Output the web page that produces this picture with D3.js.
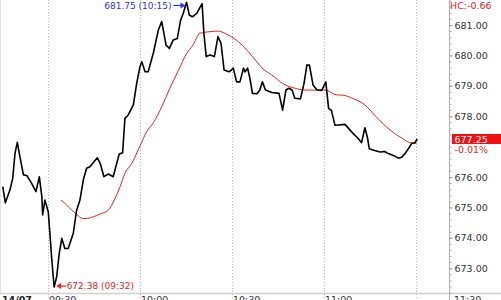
<!DOCTYPE html>
<html lang="en">
<head>
<meta charset="utf-8" />
<script src="https://cdnjs.cloudflare.com/ajax/libs/d3/7.8.5/d3.min.js"></script>
<style>
    body { margin: 0; background: #fff; }
    svg { display: block; font-family: 'DejaVu Sans', Verdana, sans-serif; }
</style>
</head>
<body>
<div id="chart"></div>
<script>
// intraday price (1-min trace)
var priceTimes = ["09:15:15","09:16:05","09:17:35","09:18:30","09:19:15","09:20:00","09:20:50","09:22:00","09:23:05","09:24:40",
    "09:26:05","09:27:10","09:28:00","09:28:15","09:29:00","09:30:05","09:30:40","09:31:15","09:32:00","09:32:50",
    "09:33:40","09:34:30","09:35:30","09:36:35","09:38:15","09:39:20","09:40:25","09:41:30","09:42:35","09:43:40",
    "09:45:00","09:46:05","09:47:00","09:48:15","09:49:40","09:51:15","09:52:25","09:53:15","09:54:20","09:55:05",
    "09:56:10","09:57:50","09:58:55","10:00:00","10:00:35","10:01:40","10:02:40","10:04:20","10:06:00","10:07:05",
    "10:08:30","10:09:35","10:10:50","10:12:10","10:13:15","10:14:05","10:15:10","10:16:05","10:17:05","10:18:30",
    "10:20:15","10:20:50","10:21:35","10:22:50","10:24:15","10:25:25","10:26:25","10:27:25","10:29:00","10:29:50",
    "10:30:25","10:31:30","10:32:35","10:33:45","10:34:15","10:35:05","10:35:50","10:36:40","10:38:10","10:39:05",
    "10:39:55","10:40:55","10:43:00","10:45:20","10:46:30","10:47:35","10:48:35","10:49:35","10:50:30","10:52:20",
    "10:53:30","10:54:25","10:55:15","10:56:25","10:57:45","10:59:15","11:00:35","11:01:30","11:02:25","11:03:35",
    "11:04:45","11:06:50","11:08:00","11:09:35","11:10:50","11:12:15","11:13:20","11:14:10","11:14:45","11:16:15",
    "11:18:15","11:19:45","11:21:00","11:22:35","11:24:15","11:25:20","11:26:25","11:27:30","11:28:35","11:29:40",
    "11:30:25"];
var priceValues = [675.68, 675.15, 675.57, 675.96, 676.78, 677.14, 676.67, 676.07, 676.05, 675.79,
    675.52, 676.01, 675.35, 674.75, 675.24, 674.86, 674.08, 673.27, 672.38, 672.72,
    673.49, 673.98, 673.65, 673.65, 674.15, 674.91, 675.24, 675.90, 676.29, 676.34,
    676.50, 676.63, 676.45, 676.01, 676.10, 676.01, 676.45, 676.76, 676.80, 677.93,
    678.04, 678.37, 679.08, 679.63, 679.79, 679.46, 679.46, 680.07, 680.84, 681.11,
    680.34, 680.23, 680.51, 680.56, 681.16, 681.38, 681.75, 681.33, 681.27, 681.38,
    681.70, 680.73, 679.96, 680.01, 679.96, 680.62, 680.40, 679.52, 679.46, 679.52,
    679.58, 679.13, 679.13, 679.58, 679.46, 679.58, 679.25, 678.75, 678.74, 678.86,
    679.13, 678.86, 678.78, 678.75, 678.20, 678.86, 678.92, 678.86, 678.59, 678.57,
    679.09, 679.68, 679.68, 679.03, 678.86, 678.85, 679.13, 678.26, 678.19, 677.70,
    677.71, 677.73, 677.60, 677.42, 677.30, 677.13, 677.62, 677.30, 676.93, 676.88,
    676.82, 676.84, 676.77, 676.71, 676.62, 676.65, 676.77, 676.93, 677.10, 677.13,
    677.25];

// moving average (red)
var maTimes = ["09:34:15","09:36:05","09:37:45","09:39:20","09:41:20","09:43:00","09:44:45","09:47:00","09:49:40","09:51:50",
    "09:53:30","09:55:05","09:57:20","10:00:00","10:02:10","10:04:20","10:07:05","10:09:45","10:12:30","10:15:15",
    "10:17:05","10:19:35","10:22:50","10:25:25","10:28:45","10:32:05","10:35:20","10:38:05","10:40:10","10:42:55",
    "10:46:45","10:50:30","10:53:50","10:57:05","11:00:20","11:04:10","11:06:15","11:09:30","11:13:20","11:17:10",
    "11:21:30","11:25:50","11:28:00","11:30:15"];
var maValues = [675.24, 675.08, 674.91, 674.78, 674.63, 674.64, 674.69, 674.78, 674.91, 675.29,
    675.68, 676.12, 676.45, 677.02, 677.49, 677.78, 678.31, 678.92, 679.50, 680.07,
    680.31, 680.73, 680.78, 680.80, 680.67, 680.45, 680.12, 679.79, 679.55, 679.36,
    679.06, 678.92, 678.86, 678.86, 678.86, 678.70, 678.69, 678.58, 678.37, 677.96,
    677.55, 677.25, 677.13, 677.11];

// 677.00 sits under the last-price box, so it has no label
var yTicks = [673, 674, 675, 676, 678, 679, 680, 681];
var timeTicks = ["09:30", "10:00", "10:30", "11:00", "11:30"];
var dateLabel = "14/07";

var highPoint = { time: "10:15:10", value: 681.75, label: "681.75 (10:15)" };
var lowPoint = { time: "09:32:00", value: 672.38, label: "672.38 (09:32)" };
var lastValue = 677.25;
var lastChange = "-0.01%";
var hcLabel = "HC:-0.66";

// -- layout --
var width = 501, height = 300;
var plotRight = 449, axisY = 293;

var parseT = d3.timeParse("%H:%M:%S");
var parseHM = d3.timeParse("%H:%M");

var price = priceTimes.map(function (t, i) { return { t: parseT(t), v: priceValues[i] }; });
var ma = maTimes.map(function (t, i) { return { t: parseT(t), v: maValues[i] }; });

var x = d3.scaleTime()
    .domain([parseHM("09:30"), parseHM("11:30")])
    .range([48, 416]);

var y = d3.scaleLinear()
    .domain([673, 681])
    .range([268.2, 25]);

var svg = d3.select('#chart').append('svg')
    .attr('width', width)
    .attr('height', height);

svg.append('rect').attr('width', width).attr('height', height).attr('fill', '#fff');

// dotted vertical grid
svg.append('g').selectAll('line')
    .data(timeTicks)
    .enter().append('line')
    .attr('x1', function (d) { return Math.round(x(parseHM(d))) + 0.5; })
    .attr('x2', function (d) { return Math.round(x(parseHM(d))) + 0.5; })
    .attr('y1', 0).attr('y2', height)
    .attr('stroke', '#b8b8b8')
    .attr('stroke-dasharray', '1,2');

// frame lines
svg.append('line')
    .attr('x1', 0.5).attr('x2', 0.5).attr('y1', 0).attr('y2', axisY)
    .attr('stroke', '#e4e4e4');
svg.append('line')
    .attr('x1', 0).attr('x2', width).attr('y1', axisY + 0.5).attr('y2', axisY + 0.5)
    .attr('stroke', '#cfcfcf').attr('stroke-width', 1.5);
svg.append('line')
    .attr('x1', plotRight + 0.5).attr('x2', plotRight + 0.5).attr('y1', 0).attr('y2', height)
    .attr('stroke', '#b0b0b0');

// right axis: minor then major ticks
var minor = svg.append('g')
    .attr('transform', 'translate(' + (plotRight + 0.5) + ',0)')
    .call(d3.axisRight(y).tickValues(d3.range(672.2, 681.81, 0.2)).tickSize(2).tickFormat(''));
minor.select('.domain').remove();
minor.selectAll('line').attr('stroke', '#aaa');

var yAxis = svg.append('g')
    .attr('transform', 'translate(' + (plotRight + 0.5) + ',0)')
    .call(d3.axisRight(y).tickValues(yTicks).tickSize(3).tickPadding(2).tickFormat(d3.format('.2f')));
yAxis.select('.domain').remove();
yAxis.selectAll('line').attr('stroke', '#999');
yAxis.selectAll('text')
    .attr('fill', '#333')
    .style('font-family', "'DejaVu Sans', Verdana, sans-serif")
    .style('font-size', '9.5px');

// time labels along the bottom
svg.append('text')
    .attr('x', 2).attr('y', 303)
    .attr('font-size', '9.5px').attr('font-weight', 'bold').attr('fill', '#222')
    .text(dateLabel);
svg.append('g').selectAll('text')
    .data(timeTicks)
    .enter().append('text')
    .attr('x', function (d, i) { return i === timeTicks.length - 1 ? plotRight + 5 : x(parseHM(d)) + 1; })
    .attr('y', 303)
    .attr('font-size', '9.5px')
    .attr('fill', '#333')
    .text(function (d) { return d; });

// moving average
svg.append('path')
    .datum(ma)
    .attr('fill', 'none')
    .attr('stroke', '#e5231b')
    .attr('stroke-width', 1)
    .attr('d', d3.line().curve(d3.curveMonotoneX)
        .x(function (d) { return x(d.t); })
        .y(function (d) { return y(d.v); }));

// price
svg.append('path')
    .datum(price)
    .attr('fill', 'none')
    .attr('stroke', '#000')
    .attr('stroke-width', 1.6)
    .attr('stroke-linejoin', 'round')
    .attr('d', d3.line()
        .x(function (d) { return x(d.t); })
        .y(function (d) { return y(d.v); }));

// high marker (blue, arrow pointing right)
var hx = x(parseT(highPoint.time)), hy = Math.max(y(highPoint.value), 5.5);
svg.append('line')
    .attr('x1', hx - 13).attr('x2', hx - 4).attr('y1', hy).attr('y2', hy)
    .attr('stroke', '#2f2fe8').attr('stroke-width', 1.2);
svg.append('path')
    .attr('d', 'M' + (hx - 1) + ',' + hy + 'L' + (hx - 6) + ',' + (hy - 3) + 'L' + (hx - 6) + ',' + (hy + 3) + 'Z')
    .attr('fill', '#2f2fe8');
svg.append('text')
    .attr('x', hx - 15).attr('y', hy + 3.3)
    .attr('text-anchor', 'end')
    .attr('font-size', '9px').attr('fill', '#2f2fe8')
    .text(highPoint.label);

// low marker (red, arrow pointing left)
var lx = x(parseT(lowPoint.time)), ly = y(lowPoint.value) - 1;
svg.append('line')
    .attr('x1', lx + 5).attr('x2', lx + 12).attr('y1', ly).attr('y2', ly)
    .attr('stroke', '#e5231b').attr('stroke-width', 1.2);
svg.append('path')
    .attr('d', 'M' + (lx + 2) + ',' + ly + 'L' + (lx + 7) + ',' + (ly - 3) + 'L' + (lx + 7) + ',' + (ly + 3) + 'Z')
    .attr('fill', '#e5231b');
svg.append('text')
    .attr('x', lx + 12.5).attr('y', ly + 3.3)
    .attr('font-size', '9px').attr('fill', '#e5231b')
    .text(lowPoint.label);

// last price box and change
var yl = y(lastValue);
svg.append('rect')
    .attr('x', plotRight + 3).attr('y', yl - 5)
    .attr('width', width - plotRight - 3).attr('height', 10)
    .attr('fill', '#f01212');
svg.append('text')
    .attr('x', plotRight + 5.5).attr('y', yl + 3.5)
    .attr('font-size', '9.5px').attr('fill', '#fff')
    .text(d3.format('.2f')(lastValue));
svg.append('text')
    .attr('x', plotRight + 5.5).attr('y', yl + 13.5)
    .attr('font-size', '9.5px').attr('fill', '#e5231b')
    .text(lastChange);

svg.append('text')
    .attr('x', plotRight + 1).attr('y', 8.5)
    .attr('font-size', '9.5px').attr('fill', '#e5231b')
    .text(hcLabel);
</script>
</body>
</html>
